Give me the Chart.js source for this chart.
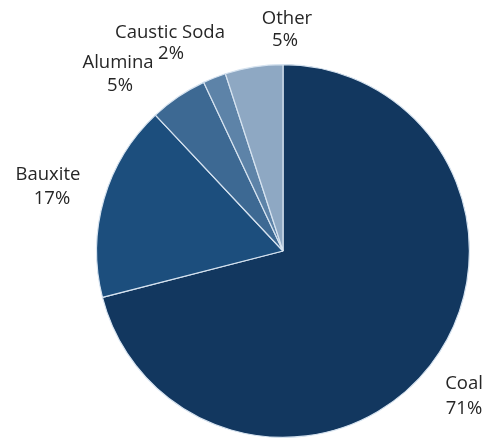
<!DOCTYPE html>
<html>
<head>
<meta charset="utf-8">
<script src="https://cdn.jsdelivr.net/npm/chart.js@4"></script>
<style>
html,body{margin:0;padding:0;background:#fff;}
#wrap{width:491px;height:439px;position:relative;}
</style>
</head>
<body>
<div id="wrap"><canvas id="c" width="491" height="439"></canvas></div>
<script>
const categories = ["Coal", "Bauxite", "Alumina", "Caustic Soda", "Other"];
const values = [71, 17, 5, 2, 5];
const valueLabels = ["71%", "17%", "5%", "2%", "5%"];
const colors = ["#12375f", "#1c4e7d", "#3d6993", "#5d83a8", "#8ea8c3"];

// label anchor positions (name line, value line) in pixels
const labelPos = [
  {n:[464,384], v:[464,409]},
  {n:[48,175],  v:[52,199]},
  {n:[118,63],  v:[120,86]},
  {n:[170,33],  v:[171,54]},
  {n:[287,19],  v:[285,41]}
];

const labelPlugin = {
  id: 'outLabels',
  afterDraw(chart) {
    const ctx = chart.ctx;
    ctx.save();
    ctx.fillStyle = '#262626';
    ctx.font = '18.5px "Open Sans", sans-serif';
    ctx.textAlign = 'center';
    ctx.textBaseline = 'middle';
    categories.forEach((c, i) => {
      const p = labelPos[i];
      ctx.fillText(c, p.n[0], p.n[1]);
      ctx.fillText(valueLabels[i], p.v[0], p.v[1]);
    });
    ctx.restore();
  }
};

new Chart(document.getElementById('c'), {
  type: 'pie',
  data: {
    labels: categories,
    datasets: [{
      data: values,
      backgroundColor: colors,
      borderColor: '#d6e3f0',
      borderWidth: 1.2
    }]
  },
  options: {
    responsive: false,
    animation: false,
    layout: { padding: { top: 64, bottom: 1, left: 96, right: 21 } },
    plugins: { legend: { display: false }, tooltip: { enabled: false } }
  },
  plugins: [labelPlugin]
});
</script>
</body>
</html>
